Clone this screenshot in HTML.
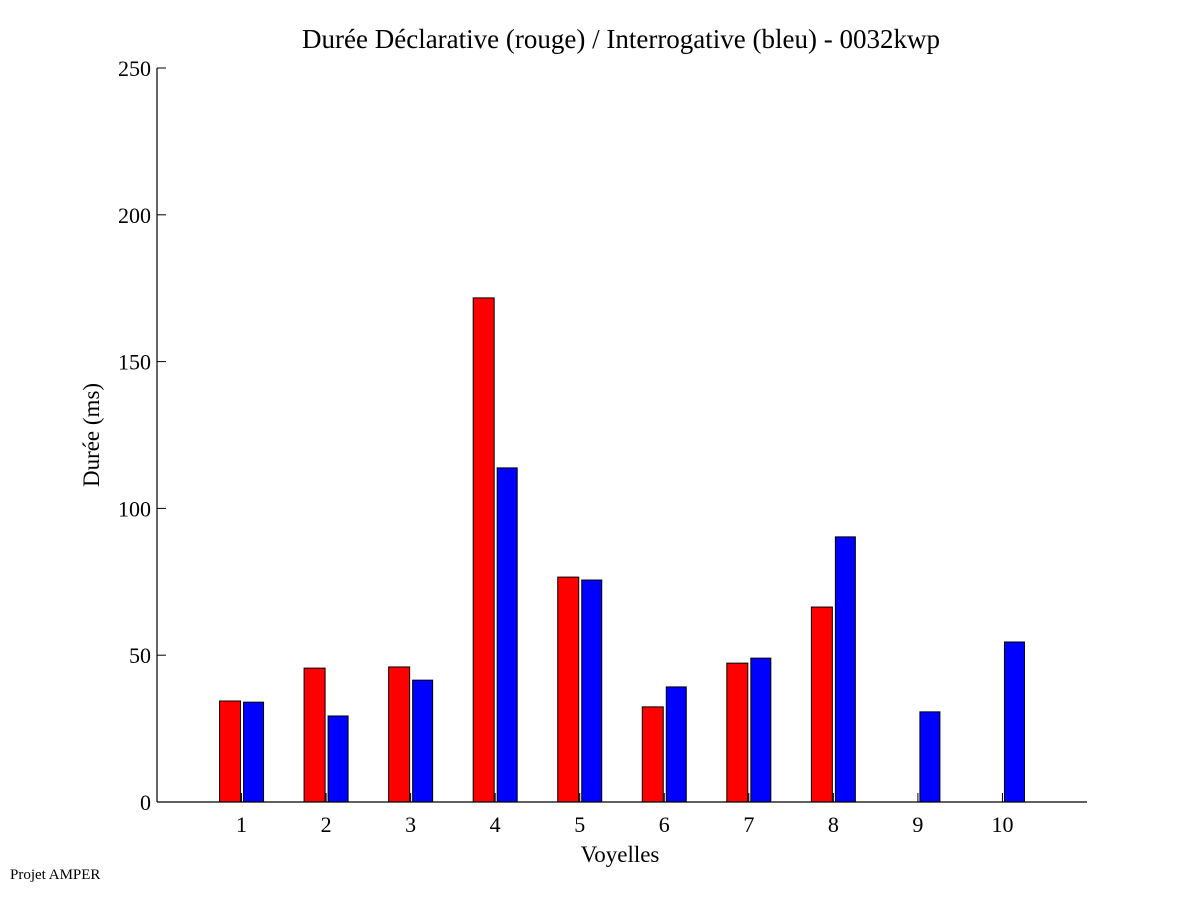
<!DOCTYPE html>
<html><head><meta charset="utf-8"><style>
body{margin:0;background:#fff;}
svg text{font-family:"Liberation Serif",serif;fill:#000;}
</style></head><body>
<svg width="1201" height="901" xmlns="http://www.w3.org/2000/svg">
<rect width="1201" height="901" fill="#fff"/>
<text x="621" y="48" font-size="27" text-anchor="middle">Durée Déclarative (rouge) / Interrogative (bleu) - 0032kwp</text>
<g id="plot"></g>
<text x="620" y="862" font-size="23" text-anchor="middle">Voyelles</text>
<text transform="translate(99,435) rotate(-90)" font-size="23" text-anchor="middle">Durée (ms)</text>
<text x="10" y="879" font-size="15">Projet AMPER</text>
</svg>
<script>
const categories=["1","2","3","4","5","6","7","8","9","10"];
const declarative=[34.4,45.6,46,171.7,76.6,32.4,47.3,66.4,0,0];
const interrogative=[34,29.3,41.5,113.8,75.6,39.2,49,90.3,30.7,54.5];
const yTicks=[0,50,100,150,200,250];
const X0=157,X1=1087,Y0=802,Y1=68;
const xs=i=>X0+(i+1)*(X1-X0)/11;
const ys=v=>Y0-(v/250)*(Y0-Y1);
const g=document.getElementById('plot');
const NS='http://www.w3.org/2000/svg';
function mk(t,a){const e=document.createElementNS(NS,t);for(const k in a)e.setAttribute(k,a[k]);g.appendChild(e);return e;}
categories.forEach((c,i)=>{
  const cx=xs(i);
  if(declarative[i]>0){
    const r=mk('rect',{x:cx-22,y:ys(declarative[i]),width:21,height:Y0-ys(declarative[i]),fill:'#ff0000',stroke:'#000','stroke-width':1});
    
    
  }
  if(interrogative[i]>0){
    const b=mk('rect',{x:cx+2,y:ys(interrogative[i]),width:20,height:Y0-ys(interrogative[i]),fill:'#0000ff',stroke:'#000','stroke-width':1});
    
    
  }
  const tk=mk('line',{x1:cx,x2:cx,y1:Y0,y2:Y0-9,stroke:'#000','stroke-width':1});
  
  
  const tl=mk('text',{x:cx,y:Y0+30,'font-size':22,'text-anchor':'middle'});
  tl.textContent=c;
  
  
});
yTicks.forEach(v=>{
  const y=ys(v);
  const tk=mk('line',{x1:X0,x2:X0+9,y1:y,y2:y,stroke:'#000','stroke-width':1});
  
  
  const tl=mk('text',{x:X0-6,y:y+8,'font-size':22,'text-anchor':'end'});
  tl.textContent=v;
  
  
});
const ya=mk('line',{x1:X0,x2:X0,y1:Y1,y2:Y0,stroke:'#000','stroke-width':1.2});


const xa=mk('line',{x1:X0,x2:X1,y1:Y0,y2:Y0,stroke:'#000','stroke-width':1.2});


</script>
</body></html>
